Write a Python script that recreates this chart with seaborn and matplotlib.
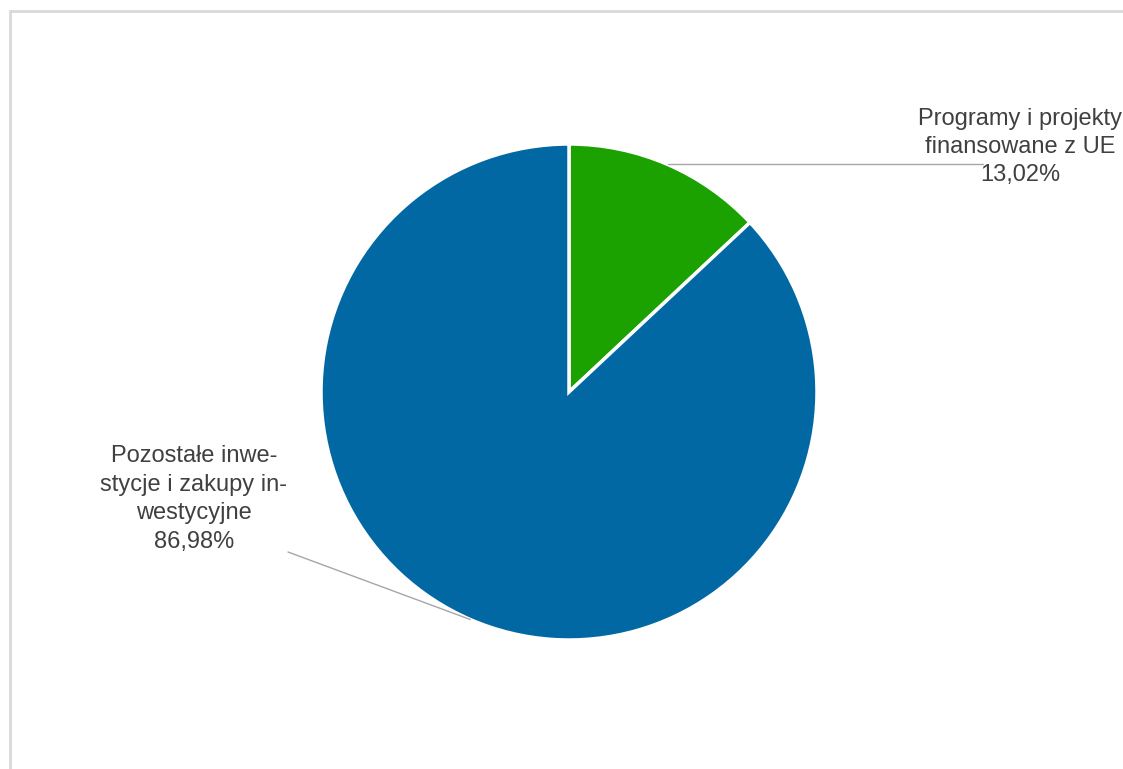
import numpy as np
import matplotlib
matplotlib.use("Agg")
import matplotlib.pyplot as plt
import seaborn as sns
from matplotlib.patches import Rectangle

categories = ["Programy i projekty\nfinansowane z UE", "Pozostałe inwe-\nstycje i zakupy in-\nwestycyjne"]
values = [13.02, 86.98]
colors = ["#1ba100", "#0268a3"]

sns.set_theme(style="white")
plt.rcParams['font.family'] = ['Liberation Sans', 'DejaVu Sans']

W, H = 1123, 769
fig = plt.figure(figsize=(W / 100, H / 100), dpi=100)
ax = fig.add_axes([0, 0, 1, 1])

cx, cy, r = 569, H - 392, 248
wedges, _ = ax.pie(values, colors=colors, startangle=90, counterclock=False,
                   center=(cx, cy), radius=r, frame=True,
                   wedgeprops=dict(edgecolor="white", linewidth=2.5))
ax.set_xlim(0, W)
ax.set_ylim(0, H)
ax.set_aspect('equal')
ax.axis('off')

# border
ax.add_patch(Rectangle((9.5, -20), 1300, H - 11 + 20, fill=False,
                       edgecolor="#d9d9d9", linewidth=2, clip_on=False))

text_color = "#404040"
fs = 17
lead_color = "#a6a6a6"

label_pos = [(1020, H - 147), (194, H - 499)]
lead_ends = [(983, None), (288, H - 552)]

for w, cat, val, (lx, ly), le in zip(wedges, categories, values, label_pos, lead_ends):
    mid = np.deg2rad((w.theta1 + w.theta2) / 2)
    ex, ey = cx + r * np.cos(mid), cy + r * np.sin(mid)
    txt = f"{cat}\n{val:.2f}%".replace(".", ",")
    ax.text(lx, ly, txt, ha="center", va="center", fontsize=fs,
            color=text_color, linespacing=1.38)
    if le[1] is None:
        ax.plot([ex, le[0]], [ey, ey], color=lead_color, lw=1)
    else:
        ax.plot([ex, le[0]], [ey, le[1]], color=lead_color, lw=1)

fig.savefig("out.png", dpi=100, facecolor="white")
